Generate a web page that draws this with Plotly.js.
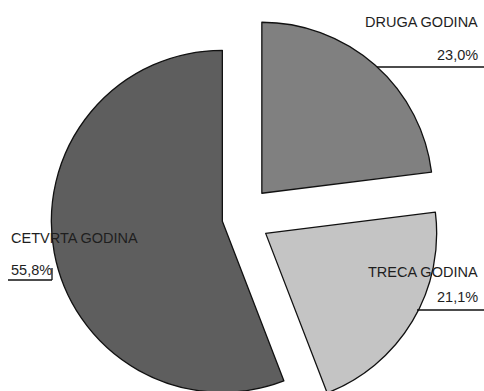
<!DOCTYPE html>
<html>
<head>
<meta charset="utf-8">
<script src="https://cdn.plot.ly/plotly-3.0.1.min.js"></script>
<style>
html, body { margin:0; padding:0; width:484px; height:391px; overflow:hidden; background:#fff; }
#wrap { width:484px; height:391px; overflow:hidden; position:relative; }
#chart { width:484px; height:430px; position:absolute; left:0; top:0; }
</style>
</head>
<body>
<div id="wrap"><div id="chart"></div></div>
<script>
// Data
const categories = ["DRUGA GODINA", "TRECA GODINA", "CETVRTA GODINA"];
const values = [23.0, 21.1, 55.8];
const valueLabels = ["23,0%", "21,1%", "55,8%"];

// Styling
const colors = ["#808080", "#c4c4c4", "#5e5e5e"];
const pulls = [0.193, 0.175, 0.105];

const W = 484, H = 430;
const M = {l: 36, r: 40, t: 14, b: 8};
const pw = W - M.l - M.r, ph = H - M.t - M.b;
const px = x => (x - M.l) / pw;
const py = y => 1 - (y - M.t) / ph;

// label layout (pixel positions)
const labelPos = [
  {x: 480, y1: 22, y2: 55, anchor: "right"},
  {x: 480, y1: 272, y2: 297, anchor: "right"},
  {x: 9,   y1: 238, y2: 270, anchor: "left"}
];
const font = {family: "Liberation Sans, Arial, sans-serif", size: 14.5, color: "#1e1e1e"};

const annotations = [];
categories.forEach((c, i) => {
  const p = labelPos[i];
  annotations.push({xref: "paper", yref: "paper", x: px(p.x), y: py(p.y1), text: c,
    showarrow: false, xanchor: p.anchor, yanchor: "middle", font: font});
  annotations.push({xref: "paper", yref: "paper", x: px(p.x), y: py(p.y2), text: valueLabels[i],
    showarrow: false, xanchor: p.anchor, yanchor: "middle", font: font});
});

const lineStyle = {color: "#111", width: 1.3};
const shapes = [
  {type: "line", xref: "paper", yref: "paper", x0: px(377), x1: px(484), y0: py(67), y1: py(67), line: lineStyle},
  {type: "line", xref: "paper", yref: "paper", x0: px(417), x1: px(484), y0: py(310), y1: py(310), line: lineStyle},
  {type: "line", xref: "paper", yref: "paper", x0: px(8), x1: px(52), y0: py(280), y1: py(280), line: lineStyle},
  {type: "line", xref: "paper", yref: "paper", x0: px(52), x1: px(52), y0: py(280), y1: py(268), line: lineStyle}
];

const trace = {
  type: "pie",
  labels: categories,
  values: values,
  sort: false,
  direction: "clockwise",
  rotation: 0,
  pull: pulls,
  marker: {colors: colors, line: {color: "#111", width: 1.3}},
  textinfo: "none",
  hoverinfo: "label+percent",
  showlegend: false
};

Plotly.newPlot("chart", [trace], {
  width: W, height: H,
  margin: M,
  paper_bgcolor: "#fff",
  showlegend: false,
  annotations: annotations,
  shapes: shapes
}, {staticPlot: true});
</script>
</body>
</html>
